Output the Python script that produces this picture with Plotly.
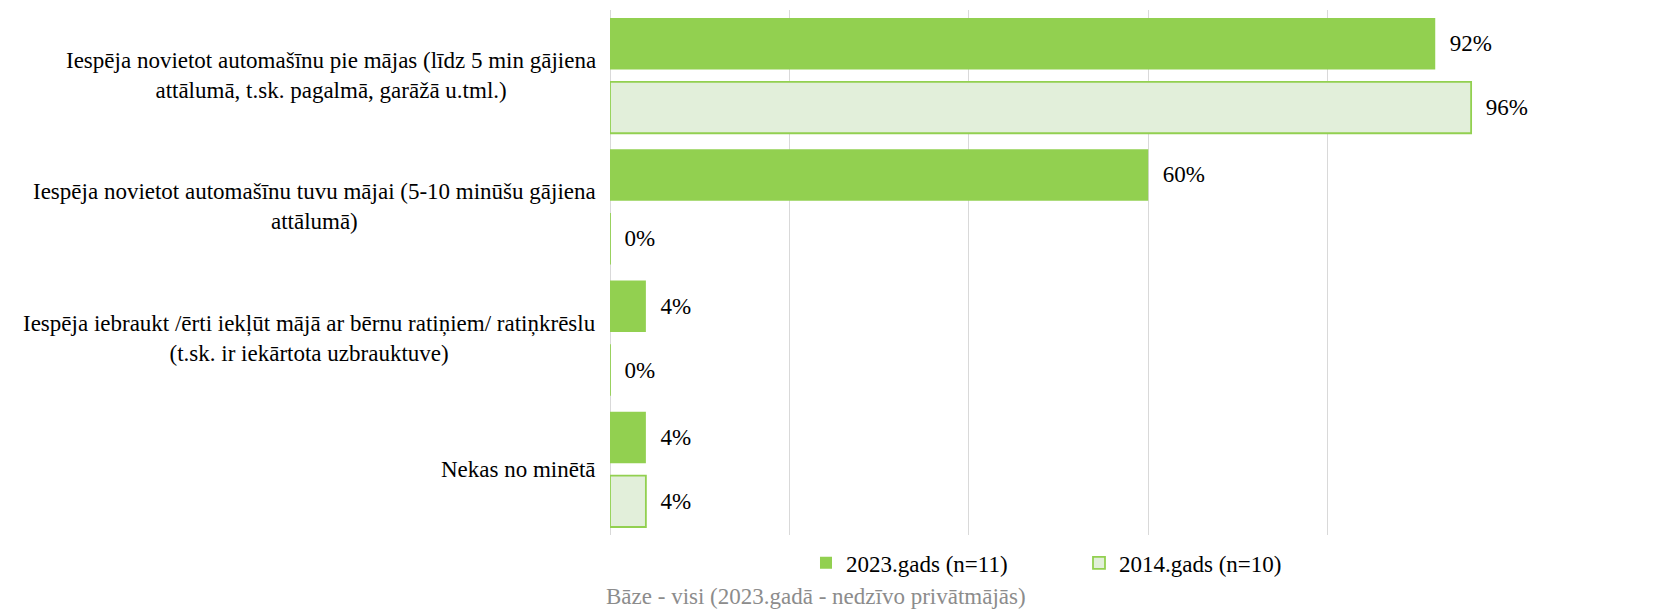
import plotly.graph_objects as go

categories = [
    "Iespēja novietot automašīnu pie mājas (līdz 5 min gājiena<br>attālumā, t.sk. pagalmā, garāžā u.tml.)",
    "Iespēja novietot automašīnu tuvu mājai (5-10 minūšu gājiena<br>attālumā)",
    "Iespēja iebraukt /ērti iekļūt mājā ar bērnu ratiņiem/ ratiņkrēslu<br>(t.sk. ir iekārtota uzbrauktuve)",
    "Nekas no minētā",
]
cat_ids = ["c1", "c2", "c3", "c4"]
values_2023 = [0.92, 0.60, 0.04, 0.04]
values_2014 = [0.96, 0.00, 0.00, 0.04]
series_names = ["2023.gads (n=11)", "2014.gads (n=10)"]
footnote = "Bāze - visi (2023.gadā - nedzīvo privātmājās)"

FONT = "Liberation Serif, Times New Roman, serif"
FS = 23
PAD = "\u00a0\u00a0"

def labels(vals):
    return [PAD + f"{round(v*100)}%" for v in vals]

fig = go.Figure()
fig.add_trace(go.Bar(
    y=cat_ids, x=values_2023, orientation="h", name=series_names[0],
    marker=dict(color="#92D050", line=dict(width=0)),
    text=labels(values_2023), textposition="outside",
    textfont=dict(family=FONT, size=FS, color="#000000"),
    cliponaxis=False,
))
fig.add_trace(go.Bar(
    y=cat_ids, x=values_2014, orientation="h", name=series_names[1],
    marker=dict(color="#E2EFDA", line=dict(width=1.8, color="#92D050")),
    text=labels(values_2014), textposition="outside",
    textfont=dict(family=FONT, size=FS, color="#000000"),
    cliponaxis=False,
))

for cid, lab in zip(cat_ids, categories):
    fig.add_annotation(
        x=-0.0139, xref="paper", y=cid, yref="y",
        text=lab, showarrow=False, xanchor="right", yanchor="middle",
        align="center", font=dict(family=FONT, size=FS, color="#000000"),
    )

fig.add_annotation(
    x=0.230, xref="paper", y=-0.118, yref="paper",
    text=footnote, showarrow=False, xanchor="center", yanchor="middle",
    font=dict(family=FONT, size=FS, color="#8C8C8C"),
)

fig.update_layout(
    width=1663, height=601,
    margin=dict(l=602, r=164, t=2, b=74),
    paper_bgcolor="white", plot_bgcolor="white",
    barmode="group", bargap=0.028, bargroupgap=0.193,
    showlegend=True,
    legend=dict(
        orientation="h", x=0.2185, xanchor="left", y=-0.053, yanchor="middle",
        font=dict(family=FONT, size=FS, color="#000000"),
        entrywidth=228, entrywidthmode="pixels",
        bgcolor="rgba(0,0,0,0)",
    ),
    xaxis=dict(
        range=[0, 1], dtick=0.2, showticklabels=False,
        showgrid=True, gridcolor="#D9D9D9", gridwidth=1,
        zeroline=True, zerolinecolor="#D9D9D9", zerolinewidth=1,
        showline=False, fixedrange=True,
    ),
    yaxis=dict(
        categoryorder="array", categoryarray=cat_ids,
        autorange="reversed", showticklabels=False,
        showgrid=False, zeroline=False, showline=False, ticks="",
    ),
)

fig.write_html("out.html")
